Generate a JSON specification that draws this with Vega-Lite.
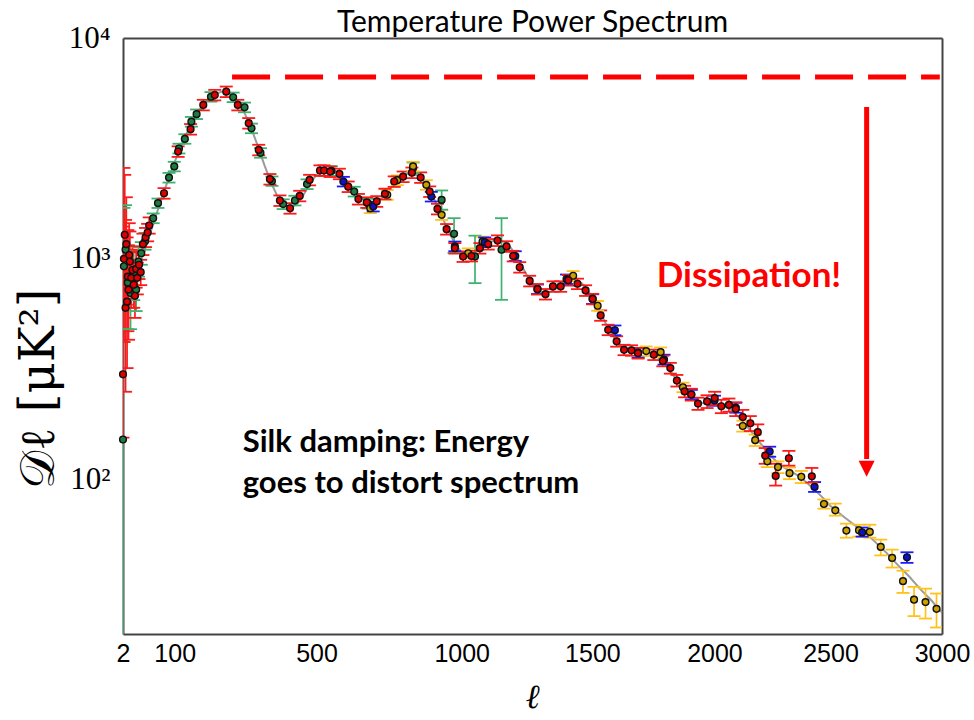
{
  "$schema": "https://vega.github.io/schema/vega-lite/v6.json",
  "width": 819,
  "height": 596,
  "autosize": {"type": "none"},
  "padding": {"left": 123, "top": 38, "right": 32, "bottom": 86},
  "background": "white",
  "config": {"view": {"stroke": null}},
  "title": {"text": "Temperature Power Spectrum", "font": "Lato", "fontSize": 30, "fontWeight": "normal", "color": "#000", "anchor": "middle", "frame": "group", "offset": -40, "baseline": "alphabetic"},
  "datasets": {
    "theory": [
      {"l":2,"d":1030},{"l":4,"d":900},{"l":7,"d":840},{"l":10,"d":820},{"l":15,"d":830},{"l":20,"d":870},{"l":25,"d":920},{"l":30,"d":990},{"l":40,"d":1160},{"l":50,"d":1370},{"l":60,"d":1600},{"l":70,"d":1850},{"l":80,"d":2130},{"l":90,"d":2430},{"l":100,"d":2750},{"l":120,"d":3420},{"l":140,"d":4100},{"l":160,"d":4730},{"l":180,"d":5230},{"l":200,"d":5580},{"l":220,"d":5720},{"l":240,"d":5620},{"l":260,"d":5250},{"l":280,"d":4650},{"l":300,"d":3950},{"l":320,"d":3250},{"l":340,"d":2650},{"l":360,"d":2200},{"l":380,"d":1900},{"l":400,"d":1740},{"l":420,"d":1700},{"l":440,"d":1780},{"l":460,"d":1960},{"l":480,"d":2200},{"l":500,"d":2400},{"l":520,"d":2510},{"l":540,"d":2540},{"l":560,"d":2500},{"l":580,"d":2400},{"l":600,"d":2240},{"l":620,"d":2070},{"l":640,"d":1930},{"l":660,"d":1830},{"l":680,"d":1790},{"l":700,"d":1810},{"l":720,"d":1900},{"l":740,"d":2040},{"l":760,"d":2190},{"l":780,"d":2330},{"l":800,"d":2420},{"l":820,"d":2440},{"l":840,"d":2390},{"l":860,"d":2270},{"l":880,"d":2080},{"l":900,"d":1860},{"l":920,"d":1640},{"l":940,"d":1440},{"l":960,"d":1270},{"l":980,"d":1150},{"l":1000,"d":1070},{"l":1020,"d":1040},{"l":1040,"d":1050},{"l":1060,"d":1090},{"l":1080,"d":1140},{"l":1100,"d":1185},{"l":1120,"d":1210},{"l":1140,"d":1215},{"l":1160,"d":1190},{"l":1180,"d":1135},{"l":1200,"d":1050},{"l":1220,"d":950},{"l":1240,"d":860},{"l":1260,"d":785},{"l":1280,"d":735},{"l":1300,"d":705},{"l":1320,"d":700},{"l":1340,"d":712},{"l":1360,"d":740},{"l":1380,"d":772},{"l":1400,"d":798},{"l":1420,"d":808},{"l":1440,"d":800},{"l":1460,"d":772},{"l":1480,"d":725},{"l":1500,"d":665},{"l":1520,"d":605},{"l":1540,"d":545},{"l":1560,"d":492},{"l":1580,"d":452},{"l":1600,"d":420},{"l":1620,"d":400},{"l":1640,"d":387},{"l":1660,"d":381},{"l":1680,"d":378},{"l":1700,"d":377},{"l":1720,"d":376},{"l":1740,"d":371},{"l":1760,"d":361},{"l":1780,"d":346},{"l":1800,"d":327},{"l":1820,"d":306},{"l":1840,"d":285},{"l":1860,"d":266},{"l":1880,"d":249},{"l":1900,"d":236},{"l":1920,"d":228},{"l":1940,"d":223},{"l":1960,"d":221},{"l":1980,"d":221},{"l":2000,"d":221},{"l":2020,"d":219},{"l":2040,"d":216},{"l":2060,"d":211},{"l":2080,"d":203},{"l":2100,"d":193},{"l":2120,"d":183},{"l":2140,"d":173},{"l":2160,"d":163},{"l":2180,"d":153},{"l":2200,"d":144},{"l":2220,"d":135},{"l":2240,"d":128},{"l":2260,"d":122},{"l":2280,"d":117},{"l":2300,"d":113},{"l":2320,"d":110},{"l":2340,"d":107},{"l":2360,"d":104},{"l":2380,"d":100},{"l":2400,"d":96},{"l":2420,"d":92},{"l":2440,"d":88},{"l":2460,"d":84},{"l":2480,"d":80},{"l":2500,"d":76},{"l":2550,"d":69},{"l":2600,"d":63},{"l":2650,"d":58},{"l":2700,"d":52},{"l":2750,"d":46.5},{"l":2800,"d":41},{"l":2850,"d":36.5},{"l":2900,"d":32},{"l":2950,"d":28.5},{"l":3000,"d":25}
    ],
    "obs": [
      {"s":"W","l":2,"d":152,"lo":5,"hi":1000},
      {"s":"W","l":3,"d":925,"lo":420,"hi":1700},
      {"s":"W","l":5,"d":1100,"lo":620,"hi":1750},
      {"s":"W","l":8,"d":780,"lo":480,"hi":1150},
      {"s":"W","l":12,"d":700,"lo":480,"hi":960},
      {"s":"W","l":17,"d":860,"lo":650,"hi":1090},
      {"s":"W","l":21,"d":725,"lo":580,"hi":890},
      {"s":"W","l":25,"d":972,"lo":830,"hi":1130},
      {"s":"W","l":30,"d":1060,"lo":940,"hi":1190},
      {"s":"W","l":37,"d":1200,"lo":1100,"hi":1310},
      {"s":"W","l":53,"d":1527,"lo":1450,"hi":1605},
      {"s":"W","l":63,"d":1787,"lo":1700,"hi":1875},
      {"s":"W","l":87,"d":2333,"lo":2215,"hi":2450},
      {"s":"W","l":99,"d":2620,"lo":2490,"hi":2750},
      {"s":"W","l":110,"d":3160,"lo":3000,"hi":3320},
      {"s":"W","l":124,"d":3492,"lo":3320,"hi":3665},
      {"s":"W","l":140,"d":4180,"lo":3970,"hi":4390},
      {"s":"W","l":153,"d":4520,"lo":4295,"hi":4745},
      {"s":"W","l":190,"d":5420,"lo":5150,"hi":5690},
      {"s":"W","l":250,"d":5393,"lo":5125,"hi":5660},
      {"s":"W","l":282,"d":4855,"lo":4610,"hi":5100},
      {"s":"W","l":302,"d":3900,"lo":3705,"hi":4095},
      {"s":"W","l":328,"d":3020,"lo":2870,"hi":3170},
      {"s":"W","l":362,"d":2250,"lo":2140,"hi":2360},
      {"s":"W","l":396,"d":1770,"lo":1680,"hi":1860},
      {"s":"W","l":432,"d":1836,"lo":1745,"hi":1930},
      {"s":"W","l":470,"d":2180,"lo":2070,"hi":2290},
      {"s":"W","l":548,"d":2500,"lo":2375,"hi":2625},
      {"s":"W","l":623,"d":2017,"lo":1915,"hi":2120},
      {"s":"W","l":670,"d":1780,"lo":1690,"hi":1870},
      {"s":"W","l":825,"d":2580,"lo":2440,"hi":2730},
      {"s":"W","l":927,"d":1848,"lo":1670,"hi":2040},
      {"s":"W","l":972,"d":1298,"lo":1064,"hi":1528},
      {"s":"W","l":1049,"d":1024,"lo":776,"hi":1273},
      {"s":"W","l":1148,"d":1099,"lo":652,"hi":1528},
      {"s":"S","l":677,"d":1694,"lo":1610,"hi":1780},
      {"s":"S","l":735,"d":1950,"lo":1850,"hi":2050},
      {"s":"S","l":770,"d":2270,"lo":2155,"hi":2385},
      {"s":"S","l":825,"d":2620,"lo":2490,"hi":2750},
      {"s":"S","l":872,"d":2163,"lo":2055,"hi":2270},
      {"s":"S","l":927,"d":1582,"lo":1500,"hi":1665},
      {"s":"S","l":1024,"d":1060,"lo":1005,"hi":1115},
      {"s":"S","l":1077,"d":1197,"lo":1135,"hi":1260},
      {"s":"S","l":1424,"d":838,"lo":795,"hi":880},
      {"s":"S","l":1521,"d":613,"lo":582,"hi":644},
      {"s":"S","l":1717,"d":382,"lo":363,"hi":401},
      {"s":"S","l":1776,"d":378,"lo":359,"hi":397},
      {"s":"S","l":1868,"d":262,"lo":249,"hi":275},
      {"s":"S","l":2120,"d":175,"lo":165,"hi":185},
      {"s":"S","l":2173,"d":151,"lo":142,"hi":160},
      {"s":"S","l":2225,"d":121,"lo":114,"hi":128},
      {"s":"S","l":2271,"d":114,"lo":107,"hi":121},
      {"s":"S","l":2321,"d":107,"lo":100.5,"hi":113.5},
      {"s":"S","l":2372,"d":103,"lo":96.5,"hi":109.5},
      {"s":"S","l":2471,"d":77.6,"lo":73.9,"hi":81.3},
      {"s":"S","l":2521,"d":72.6,"lo":68.7,"hi":77.9},
      {"s":"S","l":2570,"d":58.8,"lo":54.6,"hi":63.2},
      {"s":"S","l":2626,"d":59,"lo":55.2,"hi":62.5},
      {"s":"S","l":2674,"d":58,"lo":54.6,"hi":62.5},
      {"s":"S","l":2723,"d":49.6,"lo":45.4,"hi":53.5},
      {"s":"S","l":2774,"d":44.2,"lo":40,"hi":48.2},
      {"s":"S","l":2823,"d":34.7,"lo":30.7,"hi":38.7},
      {"s":"S","l":2873,"d":28.6,"lo":24.1,"hi":32.7},
      {"s":"S","l":2925,"d":27.9,"lo":23.5,"hi":32.1},
      {"s":"S","l":2975,"d":26,"lo":21.4,"hi":30.5},
      {"s":"A","l":587,"d":2239,"lo":2127,"hi":2351},
      {"s":"A","l":687,"d":1725,"lo":1639,"hi":1811},
      {"s":"A","l":890,"d":1914,"lo":1818,"hi":2010},
      {"s":"A","l":975,"d":1140,"lo":1083,"hi":1197},
      {"s":"A","l":1085,"d":1190,"lo":1130,"hi":1250},
      {"s":"A","l":1200,"d":1030,"lo":978,"hi":1082},
      {"s":"A","l":1285,"d":729,"lo":693,"hi":765},
      {"s":"A","l":1398,"d":809,"lo":769,"hi":849},
      {"s":"A","l":1501,"d":658,"lo":625,"hi":691},
      {"s":"A","l":1590,"d":475,"lo":451,"hi":499},
      {"s":"A","l":1684,"d":376,"lo":357,"hi":395},
      {"s":"A","l":1790,"d":350,"lo":332,"hi":368},
      {"s":"A","l":1903,"d":243,"lo":231,"hi":255},
      {"s":"A","l":2000,"d":228,"lo":216,"hi":240},
      {"s":"A","l":2090,"d":212,"lo":201,"hi":223},
      {"s":"A","l":2235,"d":134,"lo":127,"hi":141},
      {"s":"A","l":2430,"d":92.7,"lo":88,"hi":97.5},
      {"s":"A","l":2640,"d":57.7,"lo":55.2,"hi":60.7},
      {"s":"A","l":2841,"d":44.5,"lo":42,"hi":46.9},
      {"s":"P","l":2,"d":300,"lo":155,"hi":1400},
      {"s":"P","l":3,"d":1000,"lo":420,"hi":2580},
      {"s":"P","l":4,"d":1285,"lo":640,"hi":2400},
      {"s":"P","l":5,"d":600,"lo":250,"hi":1500},
      {"s":"P","l":6,"d":1165,"lo":620,"hi":1900},
      {"s":"P","l":7,"d":640,"lo":320,"hi":1250},
      {"s":"P","l":8,"d":830,"lo":470,"hi":1350},
      {"s":"P","l":9,"d":725,"lo":430,"hi":1150},
      {"s":"P","l":10,"d":1040,"lo":700,"hi":1450},
      {"s":"P","l":11,"d":972,"lo":680,"hi":1330},
      {"s":"P","l":13,"d":820,"lo":600,"hi":1100},
      {"s":"P","l":15,"d":890,"lo":680,"hi":1140},
      {"s":"P","l":17,"d":763,"lo":600,"hi":950},
      {"s":"P","l":19,"d":680,"lo":540,"hi":840},
      {"s":"P","l":21,"d":900,"lo":740,"hi":1070},
      {"s":"P","l":23,"d":820,"lo":690,"hi":960},
      {"s":"P","l":26,"d":940,"lo":810,"hi":1080},
      {"s":"P","l":29,"d":870,"lo":760,"hi":990},
      {"s":"P","l":33,"d":1165,"lo":1040,"hi":1300},
      {"s":"P","l":38,"d":1250,"lo":1130,"hi":1380},
      {"s":"P","l":42,"d":1316,"lo":1200,"hi":1440},
      {"s":"P","l":45,"d":1416,"lo":1300,"hi":1540},
      {"s":"P","l":76,"d":1981,"lo":1872,"hi":2090},
      {"s":"P","l":108,"d":3063,"lo":2895,"hi":3231},
      {"s":"P","l":138,"d":3864,"lo":3651,"hi":4077},
      {"s":"P","l":170,"d":4975,"lo":4701,"hi":5249},
      {"s":"P","l":200,"d":5520,"lo":5216,"hi":5824},
      {"s":"P","l":231,"d":5714,"lo":5400,"hi":6028},
      {"s":"P","l":263,"d":4975,"lo":4701,"hi":5249},
      {"s":"P","l":294,"d":4113,"lo":3887,"hi":4339},
      {"s":"P","l":323,"d":3113,"lo":2942,"hi":3284},
      {"s":"P","l":356,"d":2295,"lo":2169,"hi":2421},
      {"s":"P","l":386,"d":1836,"lo":1735,"hi":1937},
      {"s":"P","l":417,"d":1694,"lo":1601,"hi":1787},
      {"s":"P","l":447,"d":1927,"lo":1821,"hi":2033},
      {"s":"P","l":478,"d":2276,"lo":2151,"hi":2401},
      {"s":"P","l":511,"d":2512,"lo":2374,"hi":2650},
      {"s":"P","l":524,"d":2512,"lo":2374,"hi":2650},
      {"s":"P","l":544,"d":2483,"lo":2346,"hi":2620},
      {"s":"P","l":574,"d":2426,"lo":2293,"hi":2559},
      {"s":"P","l":603,"d":2123,"lo":2006,"hi":2240},
      {"s":"P","l":637,"d":1864,"lo":1761,"hi":1967},
      {"s":"P","l":665,"d":1800,"lo":1701,"hi":1899},
      {"s":"P","l":699,"d":1820,"lo":1720,"hi":1920},
      {"s":"P","l":727,"d":1968,"lo":1860,"hi":2076},
      {"s":"P","l":759,"d":2239,"lo":2116,"hi":2362},
      {"s":"P","l":790,"d":2355,"lo":2225,"hi":2485},
      {"s":"P","l":821,"d":2455,"lo":2320,"hi":2590},
      {"s":"P","l":852,"d":2335,"lo":2207,"hi":2463},
      {"s":"P","l":884,"d":2017,"lo":1906,"hi":2128},
      {"s":"P","l":912,"d":1682,"lo":1589,"hi":1775},
      {"s":"P","l":945,"d":1362,"lo":1287,"hi":1437},
      {"s":"P","l":975,"d":1117,"lo":1056,"hi":1178},
      {"s":"P","l":1005,"d":1024,"lo":968,"hi":1080},
      {"s":"P","l":1036,"d":1030,"lo":973,"hi":1087},
      {"s":"P","l":1067,"d":1117,"lo":1056,"hi":1178},
      {"s":"P","l":1098,"d":1165,"lo":1101,"hi":1229},
      {"s":"P","l":1133,"d":1210,"lo":1143,"hi":1277},
      {"s":"P","l":1167,"d":1138,"lo":1075,"hi":1201},
      {"s":"P","l":1192,"d":1030,"lo":973,"hi":1087},
      {"s":"P","l":1217,"d":916,"lo":866,"hi":966},
      {"s":"P","l":1255,"d":794,"lo":750,"hi":838},
      {"s":"P","l":1285,"d":729,"lo":689,"hi":769},
      {"s":"P","l":1316,"d":692,"lo":654,"hi":730},
      {"s":"P","l":1345,"d":750,"lo":709,"hi":791},
      {"s":"P","l":1375,"d":750,"lo":709,"hi":791},
      {"s":"P","l":1405,"d":800,"lo":756,"hi":844},
      {"s":"P","l":1441,"d":771,"lo":729,"hi":813},
      {"s":"P","l":1473,"d":719,"lo":679,"hi":759},
      {"s":"P","l":1501,"d":658,"lo":622,"hi":694},
      {"s":"P","l":1533,"d":554,"lo":524,"hi":584},
      {"s":"P","l":1563,"d":477,"lo":451,"hi":503},
      {"s":"P","l":1597,"d":423,"lo":400,"hi":446},
      {"s":"P","l":1627,"d":387,"lo":366,"hi":408},
      {"s":"P","l":1657,"d":385,"lo":364,"hi":406},
      {"s":"P","l":1684,"d":374,"lo":353,"hi":395},
      {"s":"P","l":1748,"d":368,"lo":348,"hi":388},
      {"s":"P","l":1785,"d":345,"lo":326,"hi":364},
      {"s":"P","l":1816,"d":320,"lo":302,"hi":338},
      {"s":"P","l":1843,"d":281,"lo":264,"hi":298},
      {"s":"P","l":1875,"d":251,"lo":236,"hi":266},
      {"s":"P","l":1903,"d":243,"lo":228,"hi":258},
      {"s":"P","l":1931,"d":221,"lo":207,"hi":235},
      {"s":"P","l":1969,"d":226,"lo":211,"hi":241},
      {"s":"P","l":2001,"d":234,"lo":218,"hi":250},
      {"s":"P","l":2029,"d":215,"lo":200,"hi":230},
      {"s":"P","l":2061,"d":218,"lo":203,"hi":233},
      {"s":"P","l":2090,"d":209,"lo":194,"hi":224},
      {"s":"P","l":2120,"d":192,"lo":177,"hi":207},
      {"s":"P","l":2152,"d":180,"lo":166,"hi":194},
      {"s":"P","l":2184,"d":164,"lo":150,"hi":178},
      {"s":"P","l":2216,"d":128.5,"lo":118,"hi":139},
      {"s":"P","l":2261,"d":104,"lo":94,"hi":118},
      {"s":"P","l":2318,"d":125,"lo":115.7,"hi":135},
      {"s":"P","l":2418,"d":103.5,"lo":97,"hi":113}
    ]
  },
  "resolve": {"scale": {"x": "shared", "y": "shared", "color": "independent", "fill": "independent"}, "axis": {"x": "independent", "y": "independent"}},
  "layer": [
    {
      "data": {"name": "theory"},
      "mark": {"type": "line", "color": "#8a8a8a", "strokeWidth": 2, "opacity": 0.85},
      "encoding": {
        "x": {"field": "l", "type": "quantitative", "scale": {"type": "pow", "exponent": 0.8, "domain": [2, 3000], "nice": false, "zero": false},
          "axis": {"orient": "bottom", "values": [2, 100, 500, 1000, 1500, 2000, 2500, 3000], "format": "d", "labelFont": "Liberation Sans", "labelFontSize": 25, "labelColor": "#000", "labelPadding": 7, "labelFlush": false, "labelOverlap": false, "labelBound": false, "tickSize": 0, "ticks": true, "tickColor": "#222", "tickWidth": 1.5, "domainColor": "#444", "domainWidth": 2, "grid": false,
            "title": "ℓ", "titleFont": "DejaVu Serif", "titleFontSize": 34, "titleFontWeight": "normal", "titleFontStyle": "italic", "titleColor": "#000", "titleX": 409, "titleY": 63, "titleBaseline": "middle", "titleAlign": "center", "titleAngle": 0,
            "encode": {"ticks": {"update": {"y2": {"value": -7}}}}}},
        "y": {"field": "d", "type": "quantitative", "scale": {"type": "log", "domain": [20, 10000], "nice": false},
          "axis": {"orient": "left", "values": [20,30,40,50,60,70,80,90,100,200,300,400,500,600,700,800,900,1000,2000,3000,4000,5000,6000,7000,8000,9000,10000],
            "labelExpr": "datum.value == 10000 ? '10⁴' : datum.value == 1000 ? '10³' : datum.value == 100 ? '10²' : ''",
            "labelFont": "Liberation Serif", "labelFontSize": 31, "labelColor": "#000", "labelPadding": 13, "labelFlush": false, "labelOverlap": false, "labelBound": false, "tickSize": 0, "ticks": true, "tickColor": "#222", "tickWidth": 1.5, "domainColor": "#444", "domainWidth": 2, "grid": false,
            "title": "𝒟ℓ [μK²]", "titleFont": "DejaVu Serif", "titleFontSize": 48, "titleFontWeight": "normal", "titleColor": "#000", "titleX": -84, "titleY": 350, "titleAngle": 270, "titleBaseline": "middle", "titleAlign": "center",
            "encode": {"ticks": {"update": {"x2": {"signal": "(datum.value == 100 || datum.value == 1000 || datum.value == 10000) ? 8 : 4"}}}}}}
      }
    },
    {
      "data": {"name": "obs"},
      "mark": {"type": "rule", "strokeWidth": 1.7, "clip": true},
      "encoding": {
        "x": {"field": "l", "type": "quantitative", "scale": {"type": "pow", "exponent": 0.8, "domain": [2, 3000], "nice": false, "zero": false},
          "axis": {"orient": "top", "values": [2, 100, 500, 1000, 1500, 2000, 2500, 3000], "labels": false, "tickSize": 0, "ticks": true, "tickColor": "#222", "tickWidth": 1.5, "domainColor": "#444", "domainWidth": 2, "grid": false, "title": null,
            "encode": {"ticks": {"update": {"y2": {"value": 7}}}}}},
        "y": {"field": "lo", "type": "quantitative", "scale": {"type": "log", "domain": [20, 10000], "nice": false},
          "axis": {"orient": "right", "values": [20,30,40,50,60,70,80,90,100,200,300,400,500,600,700,800,900,1000,2000,3000,4000,5000,6000,7000,8000,9000,10000], "labels": false, "tickSize": 0, "ticks": true, "tickColor": "#222", "tickWidth": 1.5, "domainColor": "#444", "domainWidth": 2, "grid": false, "title": null,
            "encode": {"ticks": {"update": {"x2": {"signal": "(datum.value == 100 || datum.value == 1000 || datum.value == 10000) ? -8 : -4"}}}}}},
        "y2": {"field": "hi"},
        "color": {"field": "s", "type": "nominal", "scale": {"domain": ["W", "S", "A", "P"], "range": ["#3CB371", "#FFC21A", "#1A1AFF", "#FF1A1A"]}, "legend": null}
      }
    },
    {
      "data": {"name": "obs"},
      "mark": {"type": "tick", "orient": "horizontal", "size": 13, "thickness": 1.8, "opacity": 1, "clip": true},
      "encoding": {
        "x": {"field": "l", "type": "quantitative", "scale": {"type": "pow", "exponent": 0.8, "domain": [2, 3000], "nice": false, "zero": false}, "axis": null},
        "y": {"field": "hi", "type": "quantitative", "scale": {"type": "log", "domain": [20, 10000], "nice": false}, "axis": null},
        "color": {"field": "s", "type": "nominal", "scale": {"domain": ["W", "S", "A", "P"], "range": ["#3CB371", "#FFC21A", "#1A1AFF", "#FF1A1A"]}, "legend": null}
      }
    },
    {
      "data": {"name": "obs"},
      "mark": {"type": "tick", "orient": "horizontal", "size": 13, "thickness": 1.8, "opacity": 1, "clip": true},
      "encoding": {
        "x": {"field": "l", "type": "quantitative", "scale": {"type": "pow", "exponent": 0.8, "domain": [2, 3000], "nice": false, "zero": false}, "axis": null},
        "y": {"field": "lo", "type": "quantitative", "scale": {"type": "log", "domain": [20, 10000], "nice": false}, "axis": null},
        "color": {"field": "s", "type": "nominal", "scale": {"domain": ["W", "S", "A", "P"], "range": ["#3CB371", "#FFC21A", "#1A1AFF", "#FF1A1A"]}, "legend": null}
      }
    },
    {
      "data": {"name": "obs"},
      "mark": {"type": "point", "shape": "circle", "filled": true, "size": 46, "stroke": "#111", "strokeWidth": 1.4, "opacity": 1},
      "encoding": {
        "x": {"field": "l", "type": "quantitative", "scale": {"type": "pow", "exponent": 0.8, "domain": [2, 3000], "nice": false, "zero": false}, "axis": null},
        "y": {"field": "d", "type": "quantitative", "scale": {"type": "log", "domain": [20, 10000], "nice": false}, "axis": null},
        "fill": {"field": "s", "type": "nominal", "scale": {"domain": ["W", "S", "A", "P"], "range": ["#1E7A40", "#C9A000", "#1010C8", "#E00000"]}, "legend": null}
      }
    },
    {
      "data": {"values": [{"l1": 247, "l2": 2990, "d": 6661}]},
      "mark": {"type": "rule", "color": "#FF0000", "strokeWidth": 5, "strokeDash": [38, 15]},
      "encoding": {
        "x": {"field": "l1", "type": "quantitative", "scale": {"type": "pow", "exponent": 0.8, "domain": [2, 3000], "nice": false, "zero": false}, "axis": null},
        "x2": {"field": "l2"},
        "y": {"field": "d", "type": "quantitative", "scale": {"type": "log", "domain": [20, 10000], "nice": false}, "axis": null}
      }
    },
    {
      "data": {"values": [{"l": 2660, "d1": 4875, "d2": 124}]},
      "mark": {"type": "rule", "color": "#FF0000", "strokeWidth": 5},
      "encoding": {
        "x": {"field": "l", "type": "quantitative", "scale": {"type": "pow", "exponent": 0.8, "domain": [2, 3000], "nice": false, "zero": false}, "axis": null},
        "y": {"field": "d1", "type": "quantitative", "scale": {"type": "log", "domain": [20, 10000], "nice": false}, "axis": null},
        "y2": {"field": "d2"}
      }
    },
    {
      "data": {"values": [{"l": 2660, "d": 112}]},
      "mark": {"type": "point", "shape": "M-1,-1L1,-1L0,1Z", "filled": true, "size": 256, "color": "#FF0000", "opacity": 1, "strokeWidth": 0},
      "encoding": {
        "x": {"field": "l", "type": "quantitative", "scale": {"type": "pow", "exponent": 0.8, "domain": [2, 3000], "nice": false, "zero": false}, "axis": null},
        "y": {"field": "d", "type": "quantitative", "scale": {"type": "log", "domain": [20, 10000], "nice": false}, "axis": null}
      }
    },
    {
      "data": {"values": [{"l": 1760, "d": 838, "t": "Dissipation!"}]},
      "mark": {"type": "text", "align": "left", "baseline": "middle", "font": "Lato", "fontWeight": "bold", "fontSize": 35, "color": "#FF0000"},
      "encoding": {
        "x": {"field": "l", "type": "quantitative", "scale": {"type": "pow", "exponent": 0.8, "domain": [2, 3000], "nice": false, "zero": false}, "axis": null},
        "y": {"field": "d", "type": "quantitative", "scale": {"type": "log", "domain": [20, 10000], "nice": false}, "axis": null},
        "text": {"field": "t"}
      }
    },
    {
      "data": {"values": [{"l": 277, "d": 146.9, "t": "Silk damping: Energy"}, {"l": 277, "d": 96, "t": "goes to distort spectrum"}]},
      "mark": {"type": "text", "align": "left", "baseline": "middle", "font": "Lato", "fontWeight": "bold", "fontSize": 31, "color": "#000"},
      "encoding": {
        "x": {"field": "l", "type": "quantitative", "scale": {"type": "pow", "exponent": 0.8, "domain": [2, 3000], "nice": false, "zero": false}, "axis": null},
        "y": {"field": "d", "type": "quantitative", "scale": {"type": "log", "domain": [20, 10000], "nice": false}, "axis": null},
        "text": {"field": "t"}
      }
    }
  ]
}
